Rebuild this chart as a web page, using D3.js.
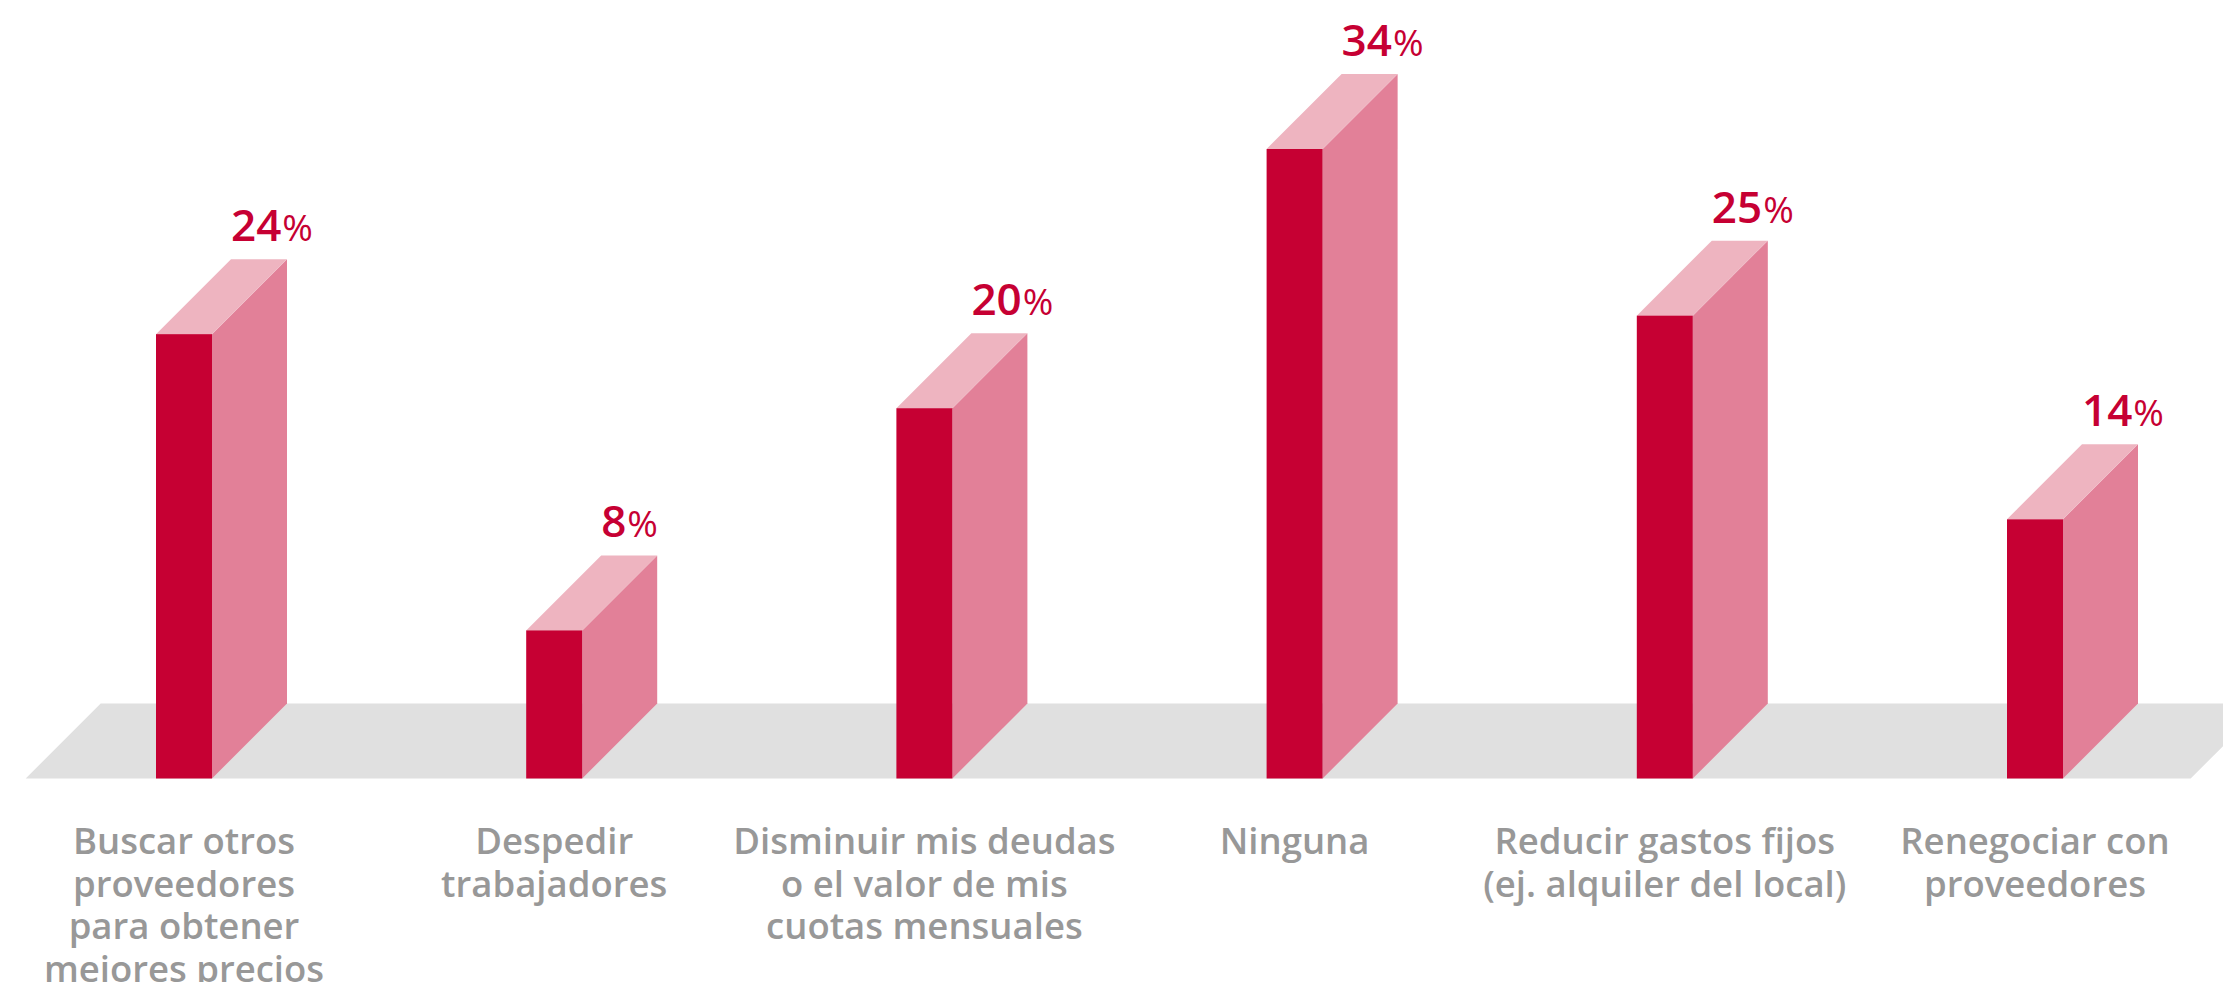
<!DOCTYPE html>
<html>
<head>
<meta charset="utf-8">
<script src="https://cdn.jsdelivr.net/npm/d3@7"></script>
<style>
  html, body { margin: 0; padding: 0; background: #ffffff; overflow: hidden; }
  svg { display: block; }
</style>
</head>
<body>
<svg id="chart" width="2223" height="982"></svg>
<script>
// ---- data ----
const categories = [
  "Buscar otros proveedores para obtener mejores precios",
  "Despedir trabajadores",
  "Disminuir mis deudas o el valor de mis cuotas mensuales",
  "Ninguna",
  "Reducir gastos fijos (ej. alquiler del local)",
  "Renegociar con proveedores"
];
const labelLines = [
  ["Buscar otros", "proveedores", "para obtener", "mejores precios"],
  ["Despedir", "trabajadores"],
  ["Disminuir mis deudas", "o el valor de mis", "cuotas mensuales"],
  ["Ninguna"],
  ["Reducir gastos fijos", "(ej. alquiler del local)"],
  ["Renegociar con", "proveedores"]
];
const values = [24, 8, 20, 34, 25, 14];

// ---- layout ----
const W = 2223, H = 982;
const depth = 75;
const baseY = 778.5;
const colFront = "#C60033", colSide = "#E28098", colTop = "#EEB4C0", colFloor = "#E0E0E0";
const labelColor = "#989898";

const svg = d3.select("#chart");

const x = d3.scaleBand()
  .domain(categories)
  .range([156, 2063])
  .paddingInner(1 - 56 / 370.2)
  .paddingOuter(0);

const y = d3.scaleLinear().domain([0, 34]).range([baseY, 149]);

// floor
const floorLeft = 25.7, floorRight = 2190.7;
svg.append("path")
  .attr("d", d3.line()([
    [floorLeft, baseY],
    [floorLeft + depth, baseY - depth],
    [floorRight + depth, baseY - depth],
    [floorRight, baseY]
  ]) + "Z")
  .attr("fill", colFloor);

const data = categories.map((c, i) => ({ c, v: values[i], lines: labelLines[i] }));

const g = svg.append("g").selectAll("g.bar").data(data).join("g").attr("class", "bar");

// side face
g.append("path")
  .attr("fill", colSide)
  .attr("d", d => {
    const x1 = x(d.c) + x.bandwidth(), t = y(d.v);
    return d3.line()([[x1, t], [x1 + depth, t - depth], [x1 + depth, baseY - depth], [x1, baseY]]) + "Z";
  });

// top face
g.append("path")
  .attr("fill", colTop)
  .attr("d", d => {
    const x0 = x(d.c), x1 = x0 + x.bandwidth(), t = y(d.v);
    return d3.line()([[x0, t], [x0 + depth, t - depth], [x1 + depth, t - depth], [x1, t]]) + "Z";
  });

// front face
g.append("rect")
  .attr("fill", colFront)
  .attr("x", d => x(d.c))
  .attr("y", d => y(d.v))
  .attr("width", x.bandwidth())
  .attr("height", d => baseY - y(d.v));

// value labels
const vl = g.append("text")
  .attr("x", d => x(d.c) + depth)
  .attr("y", d => y(d.v) - depth - 18)
  .attr("fill", colFront)
  .attr("font-family", "'Open Sans', sans-serif")
  .attr("font-weight", 600)
  .attr("font-size", 44);
vl.append("tspan").text(d => d.v);
vl.append("tspan").attr("font-size", 37).attr("font-weight", 500).attr("dx", 1).text("%");

// category labels
const cl = g.append("text")
  .attr("text-anchor", "middle")
  .attr("fill", labelColor)
  .attr("font-family", "'Open Sans', sans-serif")
  .attr("font-weight", 600)
  .attr("font-size", 36.5);
cl.selectAll("tspan").data(d => d.lines.map((l, j) => ({ l, j, cx: x(d.c) + x.bandwidth() / 2 })))
  .join("tspan")
  .attr("x", t => t.cx)
  .attr("y", t => 854 + t.j * 42.5)
  .text(t => t.l);
</script>
</body>
</html>
